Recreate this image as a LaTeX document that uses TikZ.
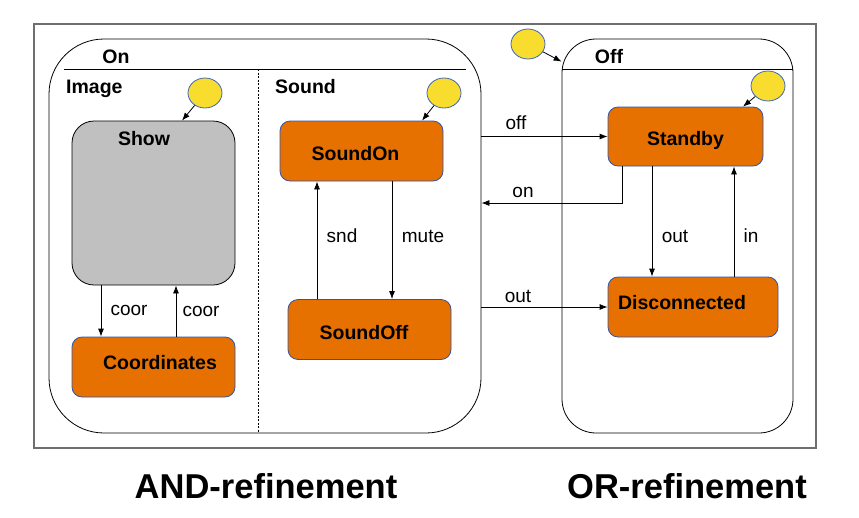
\documentclass[tikz,border=0pt]{standalone}
\usepackage{fontspec}
\setmainfont{Liberation Sans}
\usetikzlibrary{shapes.geometric,arrows.meta}
\definecolor{stfill}{RGB}{230,113,0}
\definecolor{stborder}{RGB}{47,84,170}
\definecolor{inityel}{RGB}{248,221,47}
\definecolor{initborder}{RGB}{60,100,190}
\definecolor{showgray}{RGB}{192,192,192}
\definecolor{framegray}{RGB}{110,110,110}
\newcommand\boxtxt[2]{\raisebox{#1}[0pt][0pt]{#2}}
\tikzset{
  stbox/.style={draw=stborder, fill=stfill, rounded corners=10, inner sep=0,
    minimum width=163, minimum height=60, line width=0.8,
    font=\fontsize{19.5}{22}\selectfont\bfseries},
  initc/.style={ellipse, draw=initborder, fill=inityel, minimum width=34,
    minimum height=30, inner sep=0, line width=0.8},
  arr/.style={-{Latex[length=8,width=6]}, line width=0.8},
  lbl/.style={font=\fontsize{19}{22}\selectfont, inner sep=0, anchor=base},
  hdr/.style={font=\fontsize{19.5}{22}\selectfont\bfseries, inner sep=0, anchor=base},
  big/.style={font=\fontsize{34.5}{40}\selectfont\bfseries, inner sep=0},
  super/.style={draw=black, line width=0.8, inner sep=0}
}
\begin{document}
\begin{tikzpicture}[x=1pt,y=-1pt]
\useasboundingbox (0,0) rectangle (859,517);
% outer frame
\draw[framegray, line width=1.3] (34,24) rectangle (816,448);
% super states
\node[super, rounded corners=55, minimum width=432, minimum height=394] (onstate) at (265,236) {};
\node[super, rounded corners=34, minimum width=231, minimum height=394] (offstate) at (677.5,236) {};
\draw[line width=0.8] (64,69) -- (466,69);
\draw[line width=0.8] (562,69) -- (793,69);
\draw[line width=0.6, dash pattern=on 2 off 1.5] (258,69) -- (258,433);
\node[hdr] (onlbl) at (116,63) {On};
\node[hdr] (offlbl) at (609,63) {Off};
\node[hdr, anchor=base west] (imglbl) at (66,93) {Image};
\node[hdr, anchor=base west] (sndlbl) at (275,93) {Sound};
% Image region
\node[draw=black, fill=showgray, rounded corners=22, minimum width=163, minimum height=164, inner sep=0, line width=0.8] (show) at (153.5,203) {};
\node[hdr] (showlbl) at (144,145) {Show};
\node[stbox] (coord) at (153.5,367) {\boxtxt{-2pt}{\hspace*{13pt}Coordinates}};
\node[initc] (ic1) at (205,93) {};
\draw[arr] (ic1) -- ([xshift=28.5]show.north);
\draw[arr] ([xshift=-52.5]show.south) -- ([xshift=-52.5]coord.north);
\draw[arr] ([xshift=22.5]coord.north) -- ([xshift=22.5]show.south);
\node[lbl] (coor1) at (129,315) {coor};
\node[lbl] (coor2) at (201,316) {coor};
% Sound region
\node[stbox] (soundon) at (361.5,151) {\boxtxt{-9pt}{SoundOn\hspace*{12pt}}};
\node[stbox] (soundoff) at (369.5,329.5) {\boxtxt{-9.5pt}{SoundOff\hspace*{11pt}}};
\node[initc] (ic2) at (444,93) {};
\draw[arr] (ic2) -- ([xshift=60.5]soundon.north);
\draw[arr] ([xshift=-52.5]soundoff.north) -- ([xshift=-52.5]soundoff.north |- soundon.south);
\draw[arr] ([xshift=30.5]soundon.south) -- ([xshift=30.5]soundon.south |- soundoff.north);
\node[lbl] (sndl) at (342,242) {snd};
\node[lbl] (mutel) at (423,242) {mute};
% Off region
\node[stbox, minimum width=155, minimum height=59] (standby) at (685.5,136.5) {\boxtxt{-8.5pt}{Standby}};
\node[stbox, minimum width=170] (disc) at (693,307) {\boxtxt{-2pt}{Disconnected\hspace*{22pt}}};
\node[initc] (ic3) at (528,44) {};
\draw[arr] (ic3) -- ([yshift=-23]offstate.north west);
\node[initc] (ic4) at (768,86) {};
\draw[arr] (ic4) -- ([xshift=57.5]standby.north);
\draw[arr] ([xshift=-33.5]standby.south) -- ([xshift=-33.5]standby.south |- disc.north);
\draw[arr] ([xshift=48.5]standby.south |- disc.north) -- ([xshift=48.5]standby.south);
\node[lbl] (outl1) at (675,242) {out};
\node[lbl] (inl) at (751,242) {in};
% transitions between On and Off
\draw[arr] (standby.west -| onstate.east) -- (standby.west);
\draw[arr] ([xshift=-63.5]standby.south) |- ([yshift=33]onstate.east);
\draw[arr] (disc.west -| onstate.east) -- (disc.west);
\node[lbl] (offl) at (516,129) {off};
\node[lbl] (onl) at (523,197) {on};
\node[lbl] (outl2) at (518,302) {out};
% captions
\node[big] (andcap) at (266,486) {AND-refinement};
\node[big] (orcap) at (687,486) {OR-refinement};
\end{tikzpicture}
\end{document}
